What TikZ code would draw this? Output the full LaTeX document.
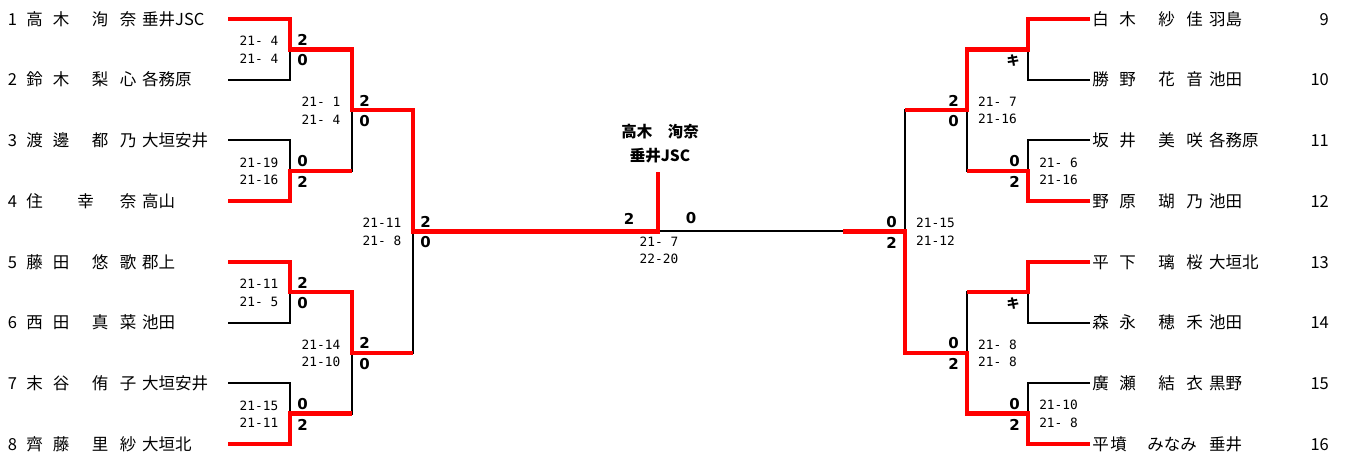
\documentclass[tikz,border=0pt]{standalone}
\usepackage{fontspec}
\usetikzlibrary{calc}
\newfontfamily\jp{Noto Sans CJK JP}
\newfontfamily\scorefont{DejaVu Sans Mono}
\newfontfamily\ptsfont{DejaVu Sans}

\tikzset{
  bline/.style={line width=2pt, black},
  win/.style={line width=4.5pt, red},
  pname/.style={font=\jp\fontsize{16.5}{16.5}\selectfont, inner sep=0, anchor=base},
  score/.style={font=\scorefont\fontsize{12.8}{17.5}\selectfont, inner sep=0, align=center},
  pts/.style={font=\ptsfont\bfseries\fontsize{15}{15}\selectfont, inner sep=0},
  kiken/.style={font=\jp\bfseries\fontsize{13}{13}\selectfont, inner sep=0},
  champ/.style={font=\jp\bfseries\fontsize{15.5}{15.5}\selectfont, inner sep=0, anchor=base}
}

\begin{document}
\begin{tikzpicture}[x=1pt, y=-1pt]
\useasboundingbox (0,0) rectangle (1348,459);

% left players
\foreach \i/\a/\b/\c/\d/\t in {1/高/木/洵/奈/垂井JSC, 2/鈴/木/梨/心/各務原, 3/渡/邊/都/乃/大垣安井,
    5/藤/田/悠/歌/郡上, 6/西/田/真/菜/池田, 7/末/谷/侑/子/大垣安井, 8/齊/藤/里/紗/大垣北} {
  \pgfmathsetmacro{\y}{19+60.7*(\i-1)}
  \node[pname] (Ln\i) at (12.5,\y+6.2) {\i};
  \node[pname] (Lfa\i) at (34.5,\y+6.2) {\a};
  \node[pname] (Lfb\i) at (61,\y+6.2) {\b};
  \node[pname] (Lga\i) at (100,\y+6.2) {\c};
  \node[pname] (Lgb\i) at (128,\y+6.2) {\d};
  \node[pname, anchor=base west] (Lt\i) at (142,\y+6.2) {\t};
}
\pgfmathsetmacro{\y}{19+60.7*3}
\node[pname] (Ln4) at (12.5,\y+6.2) {4};
\node[pname] (Lfa4) at (34.5,\y+6.2) {住};
\node[pname] (Lga4) at (85.5,\y+6.2) {幸};
\node[pname] (Lgb4) at (128,\y+6.2) {奈};
\node[pname, anchor=base west] (Lt4) at (142,\y+6.2) {高山};
\foreach \i in {1,...,8} {
  \pgfmathsetmacro{\y}{19+60.7*(\i-1)}
  \coordinate (Lp\i) at (228,\y);
}

% right players
\foreach \i/\a/\b/\c/\d/\t in {9/白/木/紗/佳/羽島, 10/勝/野/花/音/池田, 11/坂/井/美/咲/各務原,
    12/野/原/瑚/乃/池田, 13/平/下/璃/桜/大垣北, 14/森/永/穂/禾/池田, 15/廣/瀬/結/衣/黒野} {
  \pgfmathsetmacro{\y}{19+60.7*(\i-9)}
  \node[pname] (Rfa\i) at (1100.5,\y+6.2) {\a};
  \node[pname] (Rfb\i) at (1127.5,\y+6.2) {\b};
  \node[pname] (Rga\i) at (1166.5,\y+6.2) {\c};
  \node[pname] (Rgb\i) at (1194.5,\y+6.2) {\d};
  \node[pname, anchor=base west] (Rt\i) at (1209,\y+6.2) {\t};
  \node[pname, anchor=base east] (Rn\i) at (1329,\y+6.2) {\i};
}
\pgfmathsetmacro{\y}{19+60.7*7}
\node[pname] (Rfa16) at (1100.5,\y+6.2) {平};
\node[pname] (Rfb16) at (1118.5,\y+6.2) {墳};
\node[pname] (Rga16) at (1172,\y+6.2) {みなみ};
\node[pname, anchor=base west] (Rt16) at (1209,\y+6.2) {垂井};
\node[pname, anchor=base east] (Rn16) at (1329,\y+6.2) {16};
\foreach \i in {9,...,16} {
  \pgfmathsetmacro{\y}{19+60.7*(\i-9)}
  \coordinate (Rp\i) at (1090,\y);
}

% junctions
\foreach \m/\p/\q in {1/1/2, 2/3/4, 3/5/6, 4/7/8}
  \path ($(Lp\p)!.5!(Lp\q)$) ++(62,0) coordinate (La\m);
\foreach \m/\p/\q in {1/9/10, 2/11/12, 3/13/14, 4/15/16}
  \path ($(Rp\p)!.5!(Rp\q)$) ++(-62,0) coordinate (Ra\m);
\path ($(La1)!.5!(La2)$) ++(62,0) coordinate (Lb1);
\path ($(La3)!.5!(La4)$) ++(62,0) coordinate (Lb2);
\path ($(Ra1)!.5!(Ra2)$) ++(-61,0) coordinate (Rb1);
\path ($(Ra3)!.5!(Ra4)$) ++(-61,0) coordinate (Rb2);
\path ($(Lb1)!.5!(Lb2)$) ++(61,0) coordinate (Lc1);
\path ($(Rb1)!.5!(Rb2)$) ++(-62,0) coordinate (Rc1);
\coordinate (Champ) at (658,172);
\path (Rc1) ++(-62,0) coordinate (Stub);

% bracket
\foreach \m/\p/\q in {1/1/2, 2/3/4, 3/5/6, 4/7/8} {
  \draw[bline] (Lp\p) -| (La\m) |- (Lp\q);
}
\foreach \m/\p/\q in {1/9/10, 2/11/12, 3/13/14, 4/15/16} {
  \draw[bline] (Rp\p) -| (Ra\m) |- (Rp\q);
}
\draw[bline] (La1) -| (Lb1) |- (La2);
\draw[bline] (La3) -| (Lb2) |- (La4);
\draw[bline] (Ra1) -| (Rb1) |- (Ra2);
\draw[bline] (Ra3) -| (Rb2) |- (Ra4);
\draw[bline] (Lb1) -| (Lc1) |- (Lb2);
\draw[bline] (Rb1) -| (Rc1) |- (Rb2);
\draw[bline] (Lc1) -- (Rc1);

% winners
\draw[win] (Lp1) -| (La1) -| (Lb1) -| (Lc1) -| (Champ);
\draw[win] (Lp4) -| (La2) -- (La2 -| Lb1);
\draw[win] (Lp5) -| (La3) -| (Lb2) -- (Lb2 -| Lc1);
\draw[win] (Lp8) -| (La4) -- (La4 -| Lb2);
\draw[win] (Rp9) -| (Ra1) -| (Rb1) -- (Rb1 -| Rc1);
\draw[win] (Rp12) -| (Ra2) -- (Ra2 -| Rb1);
\draw[win] (Rp13) -| (Ra3) -- (Ra3 -| Rb2);
\draw[win] (Rp16) -| (Ra4) -| (Rb2) -| (Rc1) -- (Stub);

% scores
\foreach \c/\s/\t/\b in {La1/{21- 4\\21- 4}/2/0, La2/{21-19\\21-16}/0/2, La3/{21-11\\21- 5}/2/0,
    La4/{21-15\\21-11}/0/2, Lb1/{21- 1\\21- 4}/2/0, Lb2/{21-14\\21-10}/2/0, Lc1/{21-11\\21- 8}/2/0} {
  \node[score] (s\c) at ($(\c)+(-31,0.5)$) {\s};
  \node[pts] (t\c) at ($(\c)+(12.5,-9.5)$) {\t};
  \node[pts] (b\c) at ($(\c)+(12.5,11)$) {\b};
}
\foreach \c/\s/\t/\b in {Ra2/{21- 6\\21-16}/0/2, Ra4/{21-10\\21- 8}/0/2, Rb1/{21- 7\\21-16}/2/0,
    Rb2/{21- 8\\21- 8}/0/2, Rc1/{21-15\\21-12}/0/2} {
  \node[score] (s\c) at ($(\c)+(30.5,0.5)$) {\s};
  \node[pts] (t\c) at ($(\c)+(-13.5,-9.5)$) {\t};
  \node[pts] (b\c) at ($(\c)+(-13.5,11)$) {\b};
}
\node[kiken] (kRa1) at ($(Ra1)+(-15,11)$) {キ};
\node[kiken] (kRa3) at ($(Ra3)+(-15,11)$) {キ};

% final
\node[pts] (tF) at (629,218.5) {2};
\node[pts] (bF) at (691,218) {0};
\node[score] (sF) at (659,250.5) {21- 7\\22-20};
\node[champ] (cName) at (660,137.8) {高木　洵奈};
\node[champ] (cTeam) at (660,161.8) {垂井JSC};
\end{tikzpicture}
\end{document}
